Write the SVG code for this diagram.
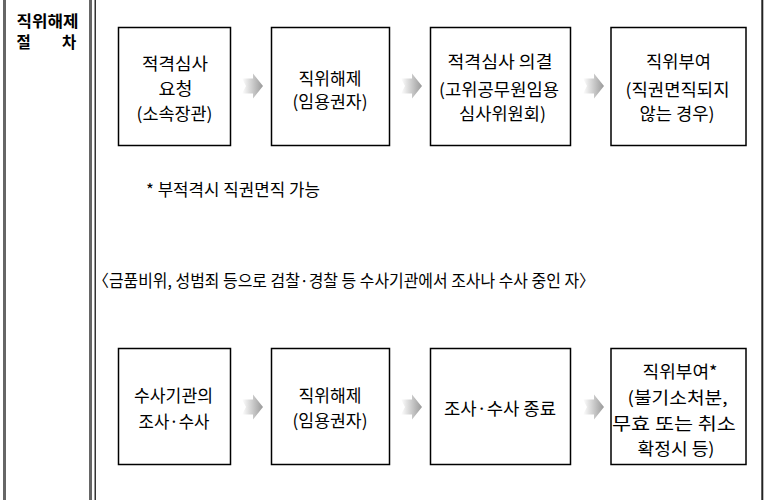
<svg xmlns="http://www.w3.org/2000/svg" width="767" height="500" viewBox="0 0 767 500">
<style>
  .box { fill: #fff; stroke: #000; stroke-width: 1.5; }
  .t { font-family: "Noto Sans CJK KR", "Noto Sans", sans-serif; font-size: 17px; fill: #000; text-anchor: middle; }
  .title { font-family: "Noto Sans CJK KR", "Noto Sans", sans-serif; font-size: 15.5px; font-weight: bold; fill: #000; }
  .plain { font-family: "Noto Sans CJK KR", "Noto Sans", sans-serif; font-size: 16.5px; fill: #000; }
</style>
<defs>
  <linearGradient id="ag" x1="0" y1="0" x2="1" y2="0">
    <stop offset="0" stop-color="#ffffff"/>
    <stop offset="1" stop-color="#999999"/>
  </linearGradient>
  <path id="arrow" d="M0,-7.5 L11,-7.5 L11,-12.5 L21,0 L11,12.5 L11,7.5 L0,7.5 L4,0 Z" fill="url(#ag)"/>
</defs>
<rect width="767" height="500" fill="#fff"/>

<g id="frame">
  <line x1="4.5" y1="0" x2="4.5" y2="500" stroke="#666" stroke-width="3"/>
  <line x1="90.5" y1="0" x2="90.5" y2="500" stroke="#666" stroke-width="3"/>
  <line x1="95.2" y1="0" x2="95.2" y2="500" stroke="#000" stroke-width="1.2"/>
  <line x1="762.3" y1="0" x2="762.3" y2="500" stroke="#222" stroke-width="2"/>
</g>

<g id="title">
  <text class="title" x="16.5" y="26.5" textLength="62" lengthAdjust="spacingAndGlyphs">직위해제</text>
  <text class="title" x="16.5" y="47.5">절</text>
  <text class="title" x="62" y="47.5">차</text>
</g>

<g id="n1">
  <rect class="box" x="118.5" y="27.5" width="112" height="118"/>
  <text class="t" x="175" y="69.5" textLength="66" lengthAdjust="spacingAndGlyphs">적격심사</text>
  <text class="t" x="175.5" y="94.5" textLength="34" lengthAdjust="spacingAndGlyphs">요청</text>
  <text class="t" x="174.5" y="120" textLength="76" lengthAdjust="spacingAndGlyphs">(소속장관)</text>
</g>
<g id="n2">
  <rect class="box" x="271.5" y="27.5" width="118" height="118"/>
  <text class="t" x="330" y="84.5" textLength="63" lengthAdjust="spacingAndGlyphs">직위해제</text>
  <text class="t" x="330" y="108" textLength="75" lengthAdjust="spacingAndGlyphs">(임용권자)</text>
</g>
<g id="n3">
  <rect class="box" x="430.5" y="27.5" width="140" height="118"/>
  <text class="t" x="500" y="67.5" textLength="105" lengthAdjust="spacingAndGlyphs">적격심사 의결</text>
  <text class="t" x="499" y="95.5" textLength="120" lengthAdjust="spacingAndGlyphs">(고위공무원임용</text>
  <text class="t" x="502.5" y="119.5" textLength="87" lengthAdjust="spacingAndGlyphs">심사위원회)</text>
</g>
<g id="n4">
  <rect class="box" x="611" y="27.5" width="135" height="118"/>
  <text class="t" x="678.5" y="67.5" textLength="65" lengthAdjust="spacingAndGlyphs">직위부여</text>
  <text class="t" x="677.5" y="95.5" textLength="104" lengthAdjust="spacingAndGlyphs">(직권면직되지</text>
  <text class="t" x="677" y="119.5" textLength="75" lengthAdjust="spacingAndGlyphs">않는 경우)</text>
</g>

<g id="note">
  <text class="plain" x="146" y="196" textLength="174" lengthAdjust="spacingAndGlyphs">* 부적격시 직권면직 가능</text>
</g>

<g id="heading">
  <text class="plain" x="93" y="286.5" textLength="502" lengthAdjust="spacingAndGlyphs">〈금품비위, 성범죄 등으로 검찰·경찰 등 수사기관에서 조사나 수사 중인 자〉</text>
</g>

<g id="m1">
  <rect class="box" x="118.5" y="348.5" width="112" height="116"/>
  <text class="t" x="173.5" y="401.5" textLength="79" lengthAdjust="spacingAndGlyphs">수사기관의</text>
  <text class="t" x="174" y="427.5" textLength="71" lengthAdjust="spacingAndGlyphs">조사·수사</text>
</g>
<g id="m2">
  <rect class="box" x="271.5" y="348.5" width="118" height="116"/>
  <text class="t" x="330" y="401.5" textLength="63" lengthAdjust="spacingAndGlyphs">직위해제</text>
  <text class="t" x="330" y="427" textLength="75" lengthAdjust="spacingAndGlyphs">(임용권자)</text>
</g>
<g id="m3">
  <rect class="box" x="430.5" y="348.5" width="140" height="116"/>
  <text class="t" x="500" y="414.5" textLength="112" lengthAdjust="spacingAndGlyphs">조사·수사 종료</text>
</g>
<g id="m4">
  <rect class="box" x="611" y="348.5" width="135" height="116"/>
  <text class="t" x="680" y="377.5" textLength="75" lengthAdjust="spacingAndGlyphs">직위부여*</text>
  <text class="t" x="677.5" y="404" textLength="100" lengthAdjust="spacingAndGlyphs">(불기소처분,</text>
  <text class="t" x="674" y="429.5" textLength="124" lengthAdjust="spacingAndGlyphs">무효 또는 취소</text>
  <text class="t" x="676" y="454.5" textLength="77" lengthAdjust="spacingAndGlyphs">확정시 등)</text>
</g>

<g id="connectors">
  <use href="#arrow" x="242" y="86"/>
  <use href="#arrow" x="401" y="86"/>
  <use href="#arrow" x="583" y="86"/>
  <use href="#arrow" x="242" y="407"/>
  <use href="#arrow" x="401" y="407"/>
  <use href="#arrow" x="583" y="407"/>
</g>
</svg>
